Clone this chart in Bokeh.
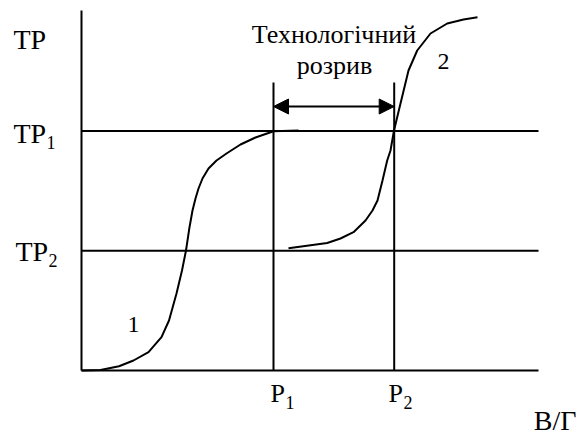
from bokeh.plotting import figure
from bokeh.models import Range1d, Arrow, NormalHead
from bokeh.core.properties import value
from bokeh.embed import file_html
from bokeh.resources import INLINE

# ---- schematic data (axis units: origin at the corner of the axes) ----
x_axis_end = 457
y_axis_top = 360
p_levels = [192, 312.7]          # P1, P2
tp_levels = [239.5, 119.7]       # TP1, TP2
p_line_top = 288
gap_y = 264

curve1_x = [0, 19, 37.5, 52, 67, 80, 87.5, 95, 100.5, 104.5, 108, 111, 114, 117, 121, 127, 135, 145, 159, 174, 192, 217]
curve1_y = [0, 0.5, 4.3, 10, 18.3, 33.3, 50, 77, 100, 120, 143.3, 160, 172, 182, 192, 202, 210, 217, 226, 233, 239.3, 240]

curve2_x = [207, 245.7, 259, 272, 284, 291, 296, 301, 305.7, 309, 312.5, 319, 327, 335.7, 349, 365.7, 382, 396]
curve2_y = [122.3, 127.5, 132, 138.3, 150, 160, 170, 190, 210, 220, 240, 267, 300, 320, 337, 347, 351, 353.3]

# labels (y = vertical centre of the text)
tp_labels = ["TP", "TP", "TP"]
tp_x = [-68, -68, -66]
tp_y = [331, 237, 119]
tp_sub = ["1", "2"]
tp_sub_x = [-35, -33]
tp_sub_y = [228.5, 110.5]
p_labels = ["P", "P"]
p_x = [189, 307]
p_y = [-23, -23]
p_sub = ["1", "2"]
p_sub_x = [204, 322]
p_sub_y = [-31.5, -31.5]
axis_name = ["В/Г"]
axis_name_x = [495]
axis_name_y = [-50]
curve_labels = ["1", "2"]
curve_label_x = [46, 356]
curve_label_y = [46, 309.5]
gap_text = ["Технологічний", "розрив"]
gap_text_x = [252.5, 253]
gap_text_y = [336, 305.5]

FONT = "Liberation Serif"

p = figure(width=581, height=435, output_backend="svg", toolbar_location=None,
           x_range=Range1d(-81, 500), y_range=Range1d(-65, 370), min_border=0)
p.axis.visible = False
p.grid.visible = False
p.outline_line_color = None
p.background_fill_color = "white"
p.border_fill_color = "white"

LW = 2
# axes
p.segment(x0=[0, 0], y0=[0, 0], x1=[0, x_axis_end], y1=[y_axis_top, 0], line_color="black", line_width=LW)
# horizontal TP levels
p.segment(x0=[0] * len(tp_levels), y0=tp_levels, x1=[x_axis_end] * len(tp_levels), y1=tp_levels,
          line_color="black", line_width=LW)
# vertical P levels
p.segment(x0=p_levels, y0=[0] * len(p_levels), x1=p_levels, y1=[p_line_top] * len(p_levels),
          line_color="black", line_width=LW)

# curves
p.line(curve1_x, curve1_y, line_color="black", line_width=LW)
p.line(curve2_x, curve2_y, line_color="black", line_width=LW)

# double arrow
p.add_layout(Arrow(start=NormalHead(size=15, fill_color="black", line_color="black"),
                   end=NormalHead(size=15, fill_color="black", line_color="black"),
                   x_start=p_levels[0], y_start=gap_y, x_end=p_levels[1], y_end=gap_y,
                   line_color="black", line_width=LW))

def txt(xs, ys, labels, size, align="left"):
    p.text(x=xs, y=ys, text=labels, text_font=value(FONT), text_font_size=size,
           text_baseline="middle", text_align=align, text_color="black")

txt(tp_x, tp_y, tp_labels, "28px")
txt(tp_sub_x, tp_sub_y, tp_sub, "18px")
txt(p_x, p_y, p_labels, "26px")
txt(p_sub_x, p_sub_y, p_sub, "18px")
txt(axis_name_x, axis_name_y, axis_name, "28px", "right")
txt(curve_label_x, curve_label_y, curve_labels, "24px")
txt(gap_text_x, gap_text_y, gap_text, "26px", "center")

open("out.html", "w").write(file_html(p, INLINE))
